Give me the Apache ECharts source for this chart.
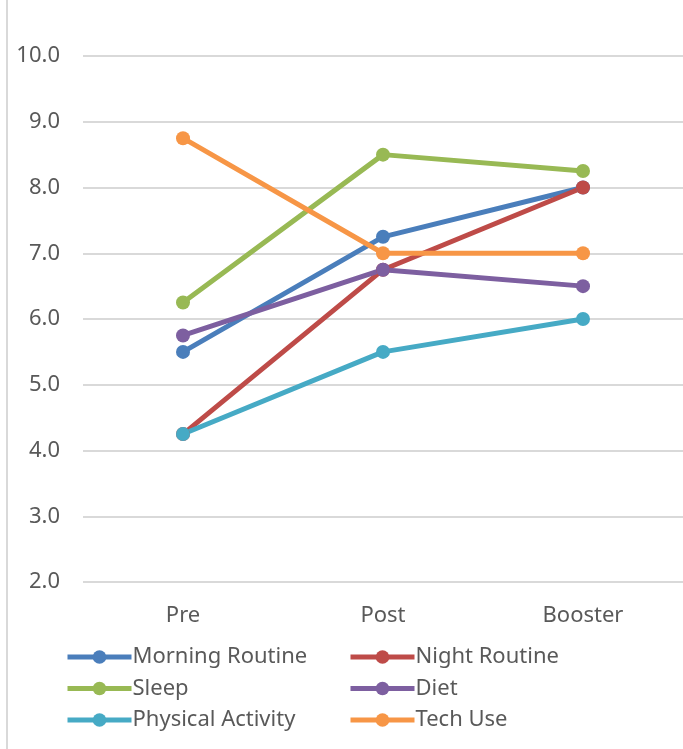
<!DOCTYPE html>
<html>
<head>
<meta charset="utf-8">
<script src="https://cdn.jsdelivr.net/npm/echarts@6/dist/echarts.min.js"></script>
<style>
  html, body { margin: 0; padding: 0; background: #ffffff; }
  #chart { width: 683px; height: 749px; }
</style>
</head>
<body>
<div id="chart"></div>
<script>
// Survey phases along the x axis
const phases = ['Pre', 'Post', 'Booster'];

// Mean scores per habit area
const morningRoutine   = [5.5, 7.25, 8.0];
const nightRoutine     = [4.25, 6.75, 8.0];
const sleep            = [6.25, 8.5, 8.25];
const diet             = [5.75, 6.75, 6.5];
const physicalActivity = [4.25, 5.5, 6.0];
const techUse          = [8.75, 7.0, 7.0];

// Value axis range and step
const yMin = 2;
const yMax = 10;
const yStep = 1;

const seriesDefs = [
  { name: 'Morning Routine',   data: morningRoutine,   color: '#4a7ebb' },
  { name: 'Night Routine',     data: nightRoutine,     color: '#be4b48' },
  { name: 'Sleep',             data: sleep,            color: '#98b954' },
  { name: 'Diet',              data: diet,             color: '#7d5fa0' },
  { name: 'Physical Activity', data: physicalActivity, color: '#46aac5' },
  { name: 'Tech Use',          data: techUse,          color: '#f79646' }
];

const fontFamily = '"Noto Sans", "Open Sans", sans-serif';
const textColor = '#595959';

const legendBase = {
  orient: 'vertical',
  top: 646,
  padding: 0,
  itemWidth: 64,
  itemHeight: 17,
  itemGap: 9.5,
  textStyle: { color: textColor, fontSize: 22, lineHeight: 22, fontFamily: fontFamily, padding: [0, 0, 0, -4] },
  itemStyle: { borderWidth: 0 },
  lineStyle: { width: 5 }
};

const chart = echarts.init(document.getElementById('chart'));
chart.setOption({
  backgroundColor: '#ffffff',
  animation: false,
  grid: { left: 83, top: 56, width: 603, height: 526, containLabel: false },
  graphic: [{
    type: 'line',
    shape: { x1: 7, y1: 0, x2: 7, y2: 749 },
    style: { stroke: '#d9d9d9', lineWidth: 2 }
  }],
  legend: [
    Object.assign({}, legendBase, { left: 65, data: ['Morning Routine', 'Sleep', 'Physical Activity'] }),
    Object.assign({}, legendBase, { left: 348, data: ['Night Routine', 'Diet', 'Tech Use'] })
  ],
  xAxis: {
    type: 'category',
    data: phases,
    boundaryGap: true,
    axisLine: { show: false },
    axisTick: { show: false },
    axisLabel: { color: textColor, fontSize: 22, fontFamily: fontFamily, margin: 23 }
  },
  yAxis: {
    type: 'value',
    min: yMin,
    max: yMax,
    interval: yStep,
    axisLine: { show: false },
    axisTick: { show: false },
    splitLine: { lineStyle: { color: '#d9d9d9', width: 2 } },
    axisLabel: {
      color: textColor, fontSize: 22, fontFamily: fontFamily, margin: 23,
      formatter: v => v.toFixed(1)
    }
  },
  series: seriesDefs.map(s => ({
    name: s.name,
    type: 'line',
    data: s.data,
    symbol: 'circle',
    symbolSize: 14,
    lineStyle: { width: 5, color: s.color },
    itemStyle: { color: s.color },
    emphasis: { disabled: true }
  }))
});
</script>
</body>
</html>
